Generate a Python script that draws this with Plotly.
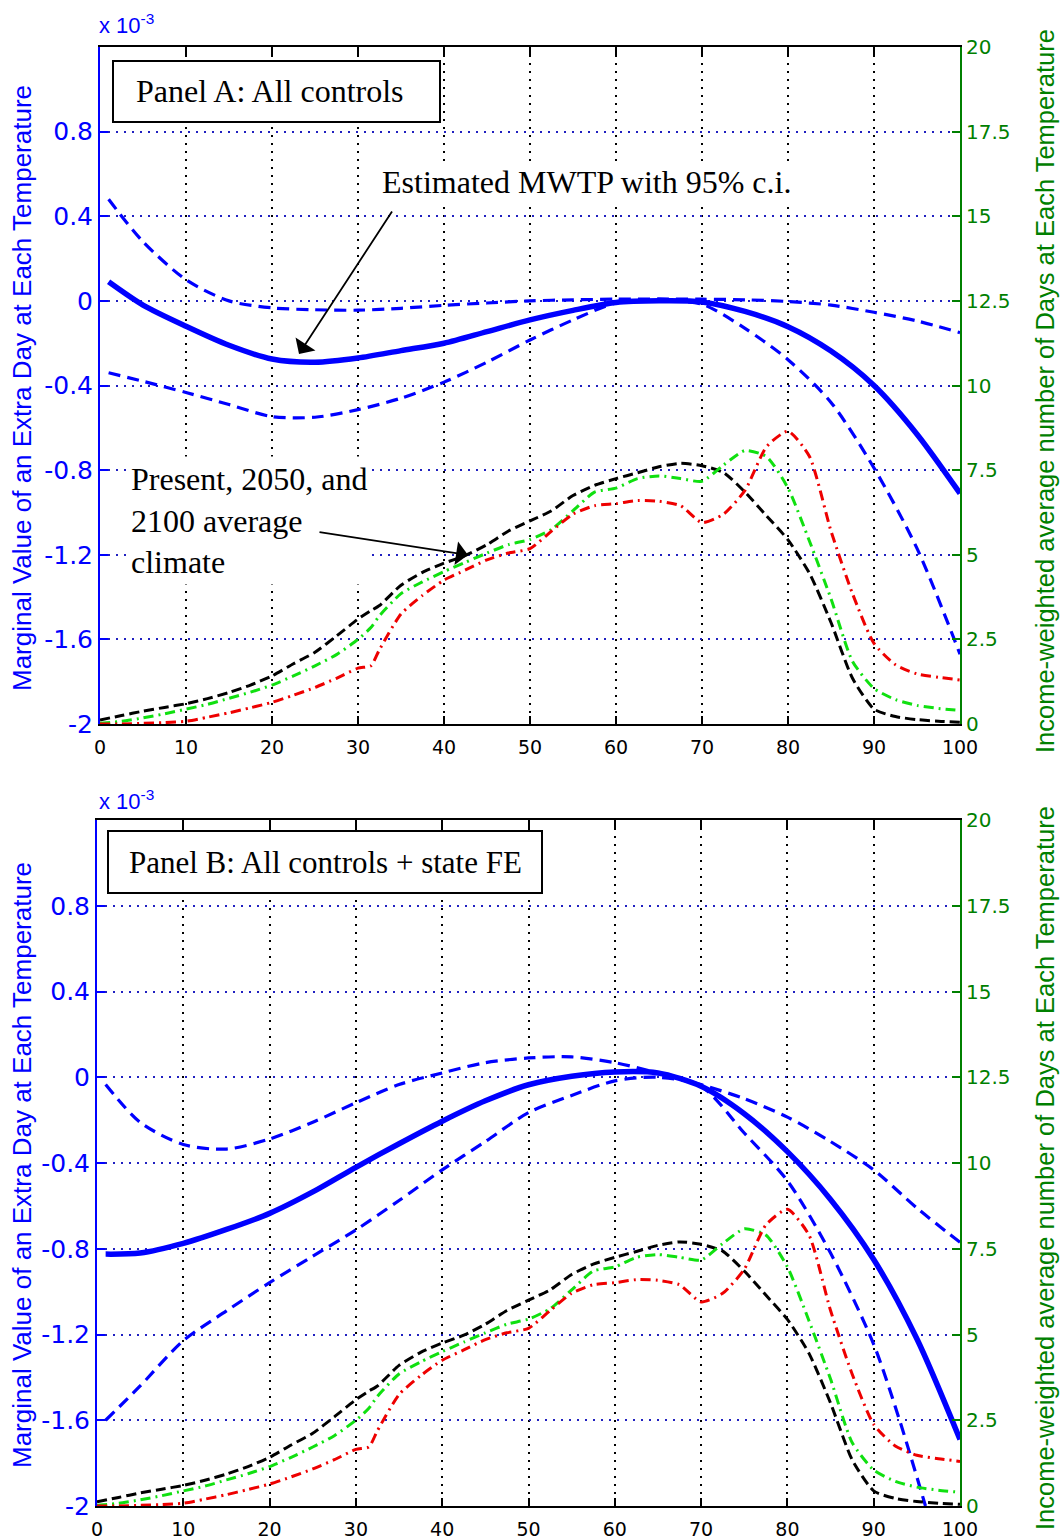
import plotly.graph_objects as go

# ---------------- data ----------------
temp_mwtp = [1, 5, 10, 15, 20, 25, 30, 35, 40, 45, 50, 55, 60, 65, 70, 75, 80, 85, 90, 95, 100]

mwtp_a = [0.09, -0.02, -0.12, -0.21, -0.275, -0.29, -0.27, -0.235, -0.20, -0.145, -0.09, -0.045,
          -0.008, 0.0, -0.005, -0.05, -0.122, -0.237, -0.40, -0.63, -0.91]
upper_a = [0.48, 0.28, 0.10, 0.0, -0.033, -0.042, -0.044, -0.035, -0.021, -0.01, 0.0, 0.005,
           0.008, 0.009, 0.008, 0.005, -0.003, -0.02, -0.054, -0.095, -0.15]
lower_a = [-0.34, -0.38, -0.433, -0.49, -0.547, -0.55, -0.514, -0.46, -0.384, -0.29, -0.185, -0.09,
           -0.01, 0.0, -0.016, -0.13, -0.278, -0.48, -0.79, -1.17, -1.67]

mwtp_b = [-0.825, -0.82, -0.775, -0.71, -0.635, -0.535, -0.42, -0.31, -0.205, -0.11, -0.035, 0.005,
          0.025, 0.02, -0.042, -0.17, -0.347, -0.57, -0.85, -1.22, -1.69]
upper_b = [-0.034, -0.21, -0.314, -0.335, -0.288, -0.21, -0.119, -0.034, 0.02, 0.068, 0.09, 0.095,
           0.068, 0.02, -0.034, -0.10, -0.186, -0.30, -0.432, -0.61, -0.77]
temp_lower_b = [1, 5, 10, 15, 20, 25, 30, 35, 40, 45, 50, 55, 60, 65, 70, 75, 80, 85, 90, 93, 96]
lower_b = [-1.6, -1.44, -1.229, -1.09, -0.958, -0.835, -0.712, -0.575, -0.432, -0.30, -0.165, -0.085,
           -0.017, 0.0, -0.042, -0.26, -0.483, -0.82, -1.246, -1.6, -2.0]

temp_clim = [0, 2.5, 5, 7.5, 10, 12.5, 15, 17.5, 20, 22.5, 25, 27.5, 30, 31.5, 32.5, 35, 37.5, 40,
             42.5, 45, 47.5, 50, 52.5, 55, 57.5, 60, 62.5, 65, 67.5, 70, 72.5, 75, 77.5, 80, 82.5,
             85, 87.5, 90, 92.5, 95, 97.5, 100]
present = [0.12, 0.25, 0.38, 0.49, 0.6, 0.75, 0.93, 1.15, 1.42, 1.78, 2.12, 2.6, 3.1, 3.35, 3.5, 4.1,
           4.48, 4.75, 4.98, 5.3, 5.7, 6.0, 6.3, 6.75, 7.05, 7.25, 7.42, 7.6, 7.7, 7.63, 7.43, 6.85,
           6.15, 5.44, 4.45, 3.0, 1.35, 0.44, 0.22, 0.13, 0.08, 0.05]
clim_2050 = [0.02, 0.08, 0.18, 0.3, 0.44, 0.58, 0.76, 0.94, 1.15, 1.42, 1.72, 2.05, 2.5, 2.85, 3.2,
             3.85, 4.2, 4.5, 4.78, 5.05, 5.3, 5.45, 5.75, 6.3, 6.85, 6.97, 7.25, 7.33, 7.25, 7.17,
             7.65, 8.08, 7.9, 6.97, 5.4, 3.7, 1.85, 1.05, 0.72, 0.55, 0.46, 0.4]
clim_2100 = [0.0, 0.0, 0.02, 0.04, 0.08, 0.2, 0.33, 0.48, 0.64, 0.85, 1.08, 1.35, 1.65, 1.72, 2.2,
             3.25, 3.8, 4.25, 4.55, 4.85, 5.05, 5.18, 5.7, 6.2, 6.45, 6.51, 6.6, 6.58, 6.45, 5.95,
             6.2, 6.9, 8.19, 8.65, 7.9, 5.7, 3.85, 2.38, 1.75, 1.48, 1.38, 1.3]

x_ticks = [0, 10, 20, 30, 40, 50, 60, 70, 80, 90, 100]
left_ticks = [-2, -1.6, -1.2, -0.8, -0.4, 0, 0.4, 0.8]
left_labels = ["-2", "-1.6", "-1.2", "-0.8", "-0.4", "0", "0.4", "0.8"]
right_ticks = [0, 2.5, 5, 7.5, 10, 12.5, 15, 17.5, 20]
right_labels = ["0", "2.5", "5", "7.5", "10", "12.5", "15", "17.5", "20"]

# ---------------- layout helpers ----------------
W, H = 1064, 1539
def xp(px):
    return px / W
def yp(py):
    return 1 - py / H

BLUE = "#0000FF"
GREEN = "#008000"
LIME = "#10E010"
RED = "#EE0000"
SERIF = "Liberation Serif"
SANS = "Liberation Sans"
GRID_DASH = "2px,6px"

fig = go.Figure()

def add_panel(xa, ya_left, ya_right, mw, up, tlo, lo):
    fig.add_trace(go.Scatter(x=temp_clim, y=present, xaxis=xa, yaxis=ya_right, mode="lines",
                             line=dict(color="black", width=3, dash="10px,5px", shape="spline", smoothing=0.6),
                             showlegend=False, hoverinfo="skip"))
    fig.add_trace(go.Scatter(x=temp_clim, y=clim_2050, xaxis=xa, yaxis=ya_right, mode="lines",
                             line=dict(color=LIME, width=3, dash="10px,5px,2px,5px", shape="spline", smoothing=0.6),
                             showlegend=False, hoverinfo="skip"))
    fig.add_trace(go.Scatter(x=temp_clim, y=clim_2100, xaxis=xa, yaxis=ya_right, mode="lines",
                             line=dict(color=RED, width=3, dash="10px,5px,2px,5px", shape="spline", smoothing=0.6),
                             showlegend=False, hoverinfo="skip"))
    fig.add_trace(go.Scatter(x=temp_mwtp, y=up, xaxis=xa, yaxis=ya_left, mode="lines",
                             line=dict(color=BLUE, width=3.2, dash="12px,7px", shape="spline", smoothing=0.8),
                             showlegend=False, hoverinfo="skip"))
    fig.add_trace(go.Scatter(x=tlo, y=lo, xaxis=xa, yaxis=ya_left, mode="lines",
                             line=dict(color=BLUE, width=3.2, dash="12px,7px", shape="spline", smoothing=0.8),
                             showlegend=False, hoverinfo="skip"))
    fig.add_trace(go.Scatter(x=temp_mwtp, y=mw, xaxis=xa, yaxis=ya_left, mode="lines",
                             line=dict(color=BLUE, width=5.5, shape="spline", smoothing=0.8),
                             showlegend=False, hoverinfo="skip"))

add_panel("x", "y", "y2", mwtp_a, upper_a, temp_mwtp, lower_a)
add_panel("x2", "y3", "y4", mwtp_b, upper_b, temp_lower_b, lower_b)

def xaxis_cfg(domain, anchor):
    return dict(domain=domain, anchor=anchor, range=[0, 100], tickvals=x_ticks, automargin=False,
                ticktext=[str(t) for t in x_ticks], showline=True, linecolor="black", linewidth=2,
                mirror="ticks", ticks="inside", ticklen=8, tickwidth=1.5, tickcolor="black",
                ticklabelstandoff=5,
                showgrid=True, gridcolor="black", gridwidth=1.5, griddash=GRID_DASH, zeroline=False,
                tickfont=dict(family="DejaVu Sans", size=19, color="black"))

def yleft_cfg(domain, anchor):
    return dict(domain=domain, anchor=anchor, range=[-2, 1.2], tickvals=left_ticks, ticktext=left_labels,
                automargin=False,
                showline=True, linecolor=BLUE, linewidth=2, ticks="inside", ticklen=8, tickwidth=1.5,
                tickcolor=BLUE, showgrid=True, gridcolor="#2020C0", gridwidth=1.5, griddash=GRID_DASH,
                zeroline=False, tickfont=dict(family="DejaVu Sans", size=25, color=BLUE))

def yright_cfg(over, anchor):
    return dict(overlaying=over, anchor=anchor, side="right", range=[0, 20], tickvals=right_ticks,
                ticktext=right_labels, showline=True, linecolor=GREEN, linewidth=2, ticks="inside",
                automargin=False,
                ticklen=8, tickwidth=1.5, tickcolor=GREEN, showgrid=False, zeroline=False,
                tickfont=dict(family="DejaVu Sans", size=20, color=GREEN))

fig.update_layout(
    template="none",
    width=W, height=H, autosize=False,
    margin=dict(l=0, r=0, t=0, b=0, pad=0),
    paper_bgcolor="white", plot_bgcolor="white",
    xaxis=xaxis_cfg([xp(100), xp(960)], "y"),
    xaxis2=xaxis_cfg([xp(97), xp(960)], "y3"),
    yaxis=yleft_cfg([yp(724), yp(47)], "x"),
    yaxis2=yright_cfg("y", "x"),
    yaxis3=yleft_cfg([yp(1506), yp(820)], "x2"),
    yaxis4=yright_cfg("y3", "x2"),
)

shapes = [
    # panel label boxes
    dict(type="rect", xref="paper", yref="paper", x0=xp(113), x1=xp(440), y0=yp(122), y1=yp(61),
         line=dict(color="black", width=2), fillcolor="white", layer="above"),
    dict(type="rect", xref="paper", yref="paper", x0=xp(108), x1=xp(542), y0=yp(893), y1=yp(831),
         line=dict(color="black", width=2), fillcolor="white", layer="above"),
]
fig.update_layout(shapes=shapes)

ann = []
# x 10^-3 labels
for ytop in (24, 800):
    ann.append(dict(text="x 10<sup>-3</sup>", xref="paper", yref="paper", x=xp(97), y=yp(ytop),
                    xanchor="left", yanchor="middle", showarrow=False,
                    font=dict(family=SANS, size=22, color=BLUE)))
# axis titles
for yc in (388, 1165):
    ann.append(dict(text="Marginal Value of an Extra Day at Each Temperature", xref="paper", yref="paper",
                    x=xp(22), y=yp(yc), xanchor="center", yanchor="middle", textangle=-90, showarrow=False,
                    font=dict(family=SANS, size=26, color=BLUE)))
for yc in (391, 1168):
    ann.append(dict(text="Income-weighted average number of Days at Each Temperature", xref="paper", yref="paper",
                    x=xp(1045), y=yp(yc), xanchor="center", yanchor="middle", textangle=-90, showarrow=False,
                    font=dict(family=SANS, size=25.5, color=GREEN)))
# panel labels
ann.append(dict(text="Panel A: All controls", xref="paper", yref="paper", x=xp(270), y=yp(91),
                xanchor="center", yanchor="middle", showarrow=False,
                font=dict(family=SERIF, size=32, color="black")))
ann.append(dict(text="Panel B: All controls + state FE", xref="paper", yref="paper", x=xp(325), y=yp(862),
                xanchor="center", yanchor="middle", showarrow=False,
                font=dict(family=SERIF, size=31, color="black")))
# text callouts
ann.append(dict(text="Estimated MWTP with 95% c.i.", xref="paper", yref="paper", x=xp(379), y=yp(182),
                xanchor="left", yanchor="middle", showarrow=False, bgcolor="white", borderpad=2,
                font=dict(family=SERIF, size=32, color="black")))
ann.append(dict(text="Present, 2050, and<br>2100 average<br>climate", xref="paper", yref="paper",
                x=xp(126), y=yp(521), xanchor="left", yanchor="middle", align="left", showarrow=False,
                bgcolor="white", borderpad=4,
                font=dict(family=SERIF, size=32, color="black")))
# arrows
ann.append(dict(text="", xref="paper", yref="paper", x=xp(299), y=yp(354), ax=393 - 299, ay=210 - 354,
                axref="pixel", ayref="pixel", showarrow=True, arrowhead=1, arrowsize=2.2, arrowwidth=1.8,
                arrowcolor="black"))
ann.append(dict(text="", xref="paper", yref="paper", x=xp(468), y=yp(555), ax=318 - 468, ay=532 - 555,
                axref="pixel", ayref="pixel", showarrow=True, arrowhead=1, arrowsize=2.2, arrowwidth=1.8,
                arrowcolor="black"))
fig.update_layout(annotations=ann)

fig.write_html("out.html", config={"displayModeBar": False},
               post_script="document.body.style.margin='0px';document.body.style.padding='0px';")
